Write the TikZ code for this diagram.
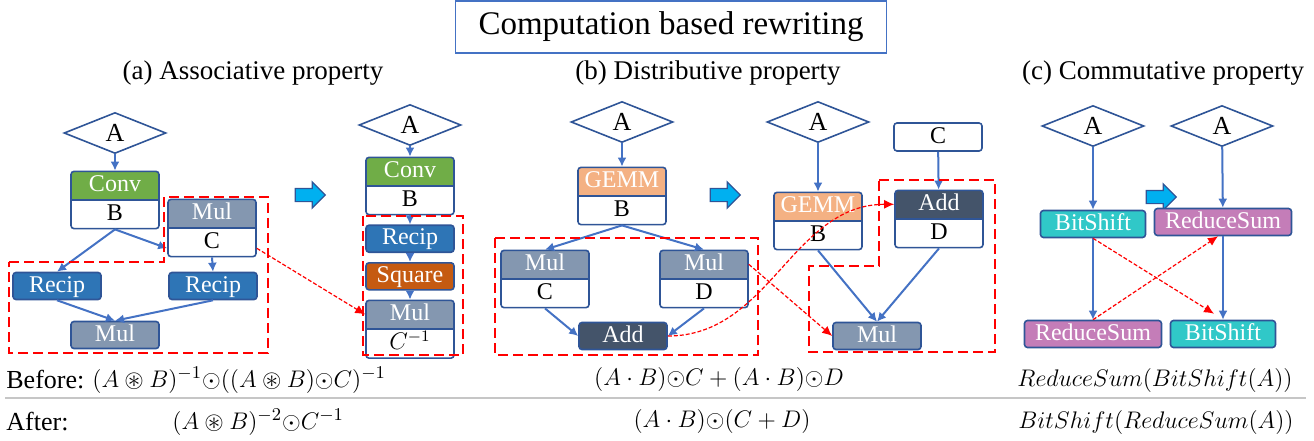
\documentclass[tikz,border=0pt]{standalone}
\usepackage{fontspec}
\setmainfont{Liberation Serif}
\usepackage{amssymb}
\usepackage{tikz,etoolbox}
\usetikzlibrary{arrows.meta, positioning, shapes, shapes.geometric, shapes.arrows, shapes.multipart, calc}

\definecolor{lineBlue}{HTML}{4472C4}
\definecolor{edgeBlue}{HTML}{2F5597}
\definecolor{convGreen}{HTML}{70AD47}
\definecolor{mulGray}{HTML}{8497B0}
\definecolor{recipBlue}{HTML}{2E75B6}
\definecolor{squareOrange}{HTML}{C55A11}
\definecolor{gemmPeach}{HTML}{F4B183}
\definecolor{addSlate}{HTML}{44546A}
\definecolor{shiftTeal}{HTML}{30C8C8}
\definecolor{sumPink}{HTML}{C47DB8}
\definecolor{arrowCyan}{HTML}{00B0F0}

\newcommand{\opstrut}{\rule[-3.25pt]{0pt}{12.5pt}}
\newcommand{\hadam}{\mathord{\odot}}

\begin{document}
\begin{tikzpicture}[
    x=0.5pt, y=-0.5pt,
    input/.style = {
        draw=edgeBlue,
        line width=0.8pt,
        diamond,
        aspect=2.5,
        minimum width=51pt,
        minimum height=20.5pt,
        inner sep=0pt,
        font=\fontsize{13}{14}\selectfont,
    },
    opbase/.style = {
        draw=edgeBlue,
        line width=0.8pt,
        rectangle,
        rounded corners=1.5pt,
        minimum width=44pt,
        minimum height=13.5pt,
        inner sep=0pt,
        font=\fontsize{12}{13}\selectfont,
    },
    opbox/.style = {
        opbase,
        fill=#1,
    },
    opsplit/.style = {
        opbase,
        rectangle split,
        rectangle split parts=2,
        rectangle split part fill={#1,white},
        inner ysep=0.5pt,
    },
    valbox/.style = {
        opbase,
        fill=white,
        minimum height=14pt,
    },
    titlebox/.style = {
        draw=lineBlue,
        line width=0.6pt,
        minimum width=215.5pt,
        minimum height=26pt,
        font=\fontsize{16.5}{18}\selectfont,
    },
    caption/.style = {
        font=\fontsize{13.5}{15}\selectfont,
    },
    formula/.style = {
        inner sep=0pt,
        font=\fontsize{12.5}{15}\selectfont,
    },
    flow/.style = {
        -{Latex[length=4.5pt, width=4.5pt]},
        draw=lineBlue,
        line width=1pt,
    },
    moved/.style = {
        -{Latex[length=5pt, width=4.5pt]},
        draw=red,
        line width=0.6pt,
        dash pattern=on 2pt off 1pt,
    },
    region/.style = {
        draw=red,
        line width=1pt,
        dash pattern=on 5pt off 2.5pt,
    },
    rewrite/.style = {
        single arrow,
        draw=edgeBlue,
        fill=arrowCyan,
        line width=0.6pt,
        minimum height=15pt,
        inner sep=3pt,
        single arrow head extend=3.25pt,
    },
    node distance=4.5pt,
]

\newcommand{\op}[5][]{
    \ifstrempty{#5}{
        \node(#2)[opbox=#3, #1] {\textcolor{white}{\opstrut#4}};
    }{
        \node(#2)[opsplit=#3, #1] {\textcolor{white}{\opstrut#4}\nodepart{second}\opstrut#5};
    }
}

\useasboundingbox (0,0) rectangle (1314,440);

\node(title)[titlebox] at (671,27) {Computation based rewriting};
\node(capA)[caption] at (253,73) {(a) Associative property};
\node(capB)[caption] at (708,73) {(b) Distributive property};
\node(capC)[caption] at (1163,73) {(c) Commutative property};

% (a) associative, before
\node(aInput)[input] at (115,133) {A};
\op[at={(115,200)}]{aConv}{convGreen}{Conv}{B};
\op[at={(212,228)}]{aMulC}{mulGray}{Mul}{C};
\op[at={(57,286)}]{aRecipL}{recipBlue}{Recip}{};
\op[at={(213,286)}]{aRecipR}{recipBlue}{Recip}{};
\op[at={(115,335)}]{aMul}{mulGray}{Mul}{};
\draw[flow] (aInput) -- (aConv);
\draw[flow] (aConv.south) -- (aMulC.west |- aMulC.two);
\draw[flow] (aConv.south) -- (aRecipL.north);
\draw[flow] (aMulC.south) -- (aRecipR.north);
\draw[flow] (aRecipL.south) -- (aMul.north);
\draw[flow] (aRecipR.south) -- (aMul.north);
\draw[region] (9,262) -- (164,262) -- (164,197) -- (268,197) -- (268,353) -- (9,353) -- cycle;

\node(aGo)[rewrite] at (307,195) {};

% (a) associative, after
\node(aNewInput)[input] at (410,125) {A};
\op[at={(410,186)}]{aNewConv}{convGreen}{Conv}{B};
\op[below=of aNewConv]{aNewRecip}{recipBlue}{Recip}{};
\op[below=of aNewRecip]{aNewSquare}{squareOrange}{Square}{};
\op[below=of aNewSquare]{aNewMul}{mulGray}{Mul}{$C^{-1}$};
\draw[flow] (aNewInput) -- (aNewConv);
\draw[flow] (aNewConv) -- (aNewRecip);
\draw[flow] (aNewRecip) -- (aNewSquare);
\draw[flow] (aNewSquare) -- (aNewMul);
\draw[region] (363,216) rectangle (463,355);
\draw[moved] (aMulC.east |- aMulC.two) -- ($(aNewMul.north west)!0.25!(aNewMul.south west)$);

% (b) distributive, before
\node(bInput)[input] at (622,122) {A};
\op[at={(622,196)}]{bGemm}{gemmPeach}{GEMM}{B};
\op[at={(545,279)}]{bMulC}{mulGray}{Mul}{C};
\op[at={(704,279)}]{bMulD}{mulGray}{Mul}{D};
\op[at={(623,336)}]{bAdd}{addSlate}{Add}{};
\draw[flow] (bInput) -- (bGemm);
\draw[flow] (bGemm.south) -- (bMulC.north);
\draw[flow] (bGemm.south) -- (bMulD.north);
\draw[flow] (bMulC.south) -- (bAdd.west);
\draw[flow] (bMulD.south) -- (bAdd.east);
\draw[region] (495,238) rectangle (758,355);

\node(bGo)[rewrite] at (722,195) {};

% (b) distributive, after
\node(bNewInput)[input] at (818,122) {A};
\node(bNewC)[valbox] at (938,137) {\opstrut C};
\op[at={(818,221)}]{bNewGemm}{gemmPeach}{GEMM}{B};
\op[at={(939,219)}]{bNewAdd}{addSlate}{Add}{D};
\op[at={(877,336)}]{bNewMul}{mulGray}{Mul}{};
\draw[flow] (bNewInput) -- (bNewGemm);
\draw[flow] (bNewC) -- (bNewAdd);
\draw[flow] (bNewGemm.south) -- (bNewMul.north);
\draw[flow] (bNewAdd.south) -- (bNewMul.north);
\draw[region] (879,180) -- (995,180) -- (995,352) -- (809,352) -- (809,266) -- (879,266) -- cycle;
\draw[moved] ($(bMulD.north east)!0.25!(bMulD.south east)$) -- (bNewMul.west);
\draw[moved] (bAdd.east) to[out=0, in=180] ($(bNewAdd.north west)!0.25!(bNewAdd.south west)$);

% (c) commutative
\node(cInput)[input] at (1093,126) {A};
\op[at={(1093,224)}, minimum width=52.5pt]{cBitShift}{shiftTeal}{BitShift}{};
\op[at={(1093,334)}, minimum width=68.5pt]{cReduceSum}{sumPink}{ReduceSum}{};
\draw[flow] (cInput) -- (cBitShift);
\draw[flow] (cBitShift) -- (cReduceSum);

\node(cGo)[rewrite] at (1158,197) {};

\node(cNewInput)[input] at (1222,126) {A};
\op[at={(1223,222)}, minimum width=68.5pt]{cNewReduceSum}{sumPink}{ReduceSum}{};
\op[at={(1223,334)}, minimum width=52.5pt]{cNewBitShift}{shiftTeal}{BitShift}{};
\draw[flow] (cNewInput) -- (cNewReduceSum);
\draw[flow] (cNewReduceSum) -- (cNewBitShift);
\draw[moved] (cBitShift.south) -- ($(cNewBitShift.north)+(-9,-6)$);
\draw[moved] (cReduceSum.north) -- ($(cNewReduceSum.south)+(-5,0)$);

% formulas
\node(beforeLabel)[formula, anchor=west, font=\fontsize{13}{15}\selectfont] at (6,380) {Before:};
\node(aBefore)[formula, anchor=west] at (92,380) {$(A\circledast B)^{-1}\hadam((A\circledast B)\hadam C)^{-1}$};
\node(afterLabel)[formula, anchor=west, font=\fontsize{13}{15}\selectfont] at (6,422) {After:};
\node(aAfter)[formula, anchor=west] at (172,422) {$(A\circledast B)^{-2}\hadam C^{-1}$};
\node(bBefore)[formula] at (719,379) {$(A\cdot B)\hadam C+(A\cdot B)\hadam D$};
\node(bAfter)[formula] at (722,421) {$(A\cdot B)\hadam(C+D)$};
\node(cBefore)[formula, font=\fontsize{13}{15}\selectfont] at (1155,380) {$ReduceSum(BitShift(A))$};
\node(cAfter)[formula, font=\fontsize{13}{15}\selectfont] at (1156,422) {$BitShift(ReduceSum(A))$};
\draw[gray!45, line width=1.2pt] (5,398) -- (1306,398);

\end{tikzpicture}
\end{document}
